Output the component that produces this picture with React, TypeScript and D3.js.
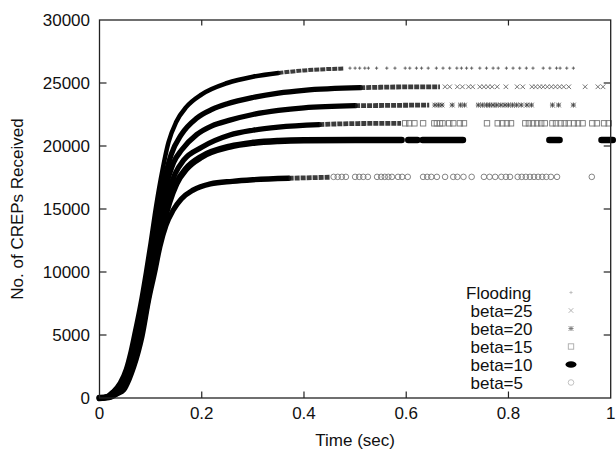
import React from "react";
import * as d3 from "d3";

// ---------- data ----------
const xTicks = [0, 0.2, 0.4, 0.6, 0.8, 1];
const xTickLabels = ["0", "0.2", "0.4", "0.6", "0.8", "1"];
const yTicks = [0, 5000, 10000, 15000, 20000, 25000, 30000];
const yTickLabels = ["0", "5000", "10000", "15000", "20000", "25000", "30000"];
const seriesNames = ["Flooding", "beta=25", "beta=20", "beta=15", "beta=10", "beta=5"];

// dense part of each series: [time, CREPs]
const floodingCurve: [number, number][] = [
  [0, 0], [0.012, 80], [0.026, 500], [0.04, 1200], [0.052, 2300], [0.06, 3500], [0.068, 5000],
  [0.08, 7400], [0.091, 10000], [0.1, 12300], [0.108, 14500], [0.12, 17400], [0.135, 20300],
  [0.15, 21900], [0.17, 23100], [0.2, 24100], [0.25, 25000], [0.3, 25500], [0.35, 25800],
  [0.4, 26000], [0.478, 26150],
];
const beta25Curve: [number, number][] = [
  [0, 0], [0.014, 70], [0.029, 500], [0.043, 1200], [0.055, 2300], [0.063, 3500], [0.071, 5000],
  [0.083, 7500], [0.094, 10000], [0.103, 12200], [0.112, 14400], [0.124, 16800], [0.14, 19300],
  [0.16, 20900], [0.19, 22200], [0.22, 22900], [0.25, 23350], [0.3, 23850], [0.35, 24200],
  [0.4, 24420], [0.51, 24630], [0.6, 24690], [0.666, 24700],
];
const beta20Curve: [number, number][] = [
  [0, 0], [0.016, 70], [0.032, 500], [0.045, 1200], [0.057, 2300], [0.065, 3500], [0.074, 5000],
  [0.086, 7500], [0.097, 10000], [0.106, 12100], [0.115, 14200], [0.128, 16500], [0.145, 18700],
  [0.161, 19700], [0.19, 20900], [0.22, 21600], [0.255, 22050], [0.3, 22500], [0.35, 22820],
  [0.4, 23030], [0.5, 23200], [0.645, 23250],
];
const beta15Curve: [number, number][] = [
  [0, 0], [0.017, 70], [0.034, 500], [0.046, 1100], [0.058, 2300], [0.067, 3500], [0.077, 5000],
  [0.089, 7500], [0.1, 10000], [0.109, 11900], [0.119, 13900], [0.132, 16000], [0.148, 17800],
  [0.165, 18900], [0.2, 19900], [0.255, 20870], [0.3, 21250], [0.35, 21500], [0.43, 21700],
  [0.5, 21780], [0.59, 21800],
];
const beta10Curve: [number, number][] = [
  [0, 0], [0.018, 70], [0.036, 500], [0.047, 1000], [0.059, 2200], [0.069, 3500], [0.08, 5000],
  [0.093, 7600], [0.103, 9800], [0.113, 11700], [0.123, 13600], [0.136, 15500], [0.15, 17000],
  [0.17, 18200], [0.2, 19150], [0.255, 19950], [0.3, 20250], [0.35, 20400], [0.4, 20460],
  [0.5, 20480], [0.591, 20480],
];
const beta5Curve: [number, number][] = [
  [0, 0], [0.02, 60], [0.035, 350], [0.047, 630], [0.058, 1500], [0.067, 2480], [0.076, 3700],
  [0.083, 4870], [0.096, 7780], [0.108, 10000], [0.118, 12000], [0.13, 13700], [0.144, 14900],
  [0.16, 15800], [0.183, 16500], [0.217, 17000], [0.26, 17200], [0.3, 17320], [0.37, 17440],
  [0.45, 17520],
];

// time where each dense curve stops being solid black
const solidEnds = [0.35, 0.51, 0.5, 0.43, 0.591, 0.37];

// plateau level of the sparse markers
const plateaus = [26180, 24700, 23250, 21800, 20480, 17550];

// sparse markers on the plateau (times)
const floodingSparse = [0.49, 0.5, 0.509, 0.519, 0.526, 0.542, 0.562, 0.578, 0.598, 0.607, 0.62, 0.63,
  0.643, 0.659, 0.672, 0.685, 0.699, 0.708, 0.718, 0.728, 0.744, 0.757, 0.77, 0.78, 0.796, 0.809,
  0.822, 0.835, 0.848, 0.868, 0.881, 0.894, 0.901, 0.914, 0.927];
const beta25Sparse = [0.676, 0.685, 0.7, 0.71, 0.722, 0.73, 0.744, 0.752, 0.76, 0.768, 0.778, 0.795,
  0.817, 0.828, 0.846, 0.853, 0.861, 0.868, 0.876, 0.884, 0.892, 0.9, 0.908, 0.918, 0.95, 0.975, 0.985];
const beta20Sparse = [0.656, 0.663, 0.67, 0.69, 0.706, 0.714, 0.741, 0.749, 0.757, 0.763, 0.77, 0.777,
  0.785, 0.793, 0.8, 0.808, 0.816, 0.825, 0.836, 0.845, 0.886, 0.898, 0.927];
const beta15Sparse = [0.598, 0.606, 0.616, 0.633, 0.655, 0.66, 0.666, 0.671, 0.684, 0.692, 0.705, 0.713,
  0.758, 0.779, 0.788, 0.797, 0.805, 0.833, 0.84, 0.848, 0.856, 0.864, 0.871, 0.886, 0.893, 0.902,
  0.91, 0.918, 0.928, 0.936, 0.945, 0.964, 0.973, 0.987, 0.996];
const beta10Runs: [number, number][] = [[0.604, 0.622], [0.632, 0.711], [0.88, 0.9], [0.982, 1.004]];
const beta5Sparse = [0.458, 0.466, 0.474, 0.482, 0.5, 0.508, 0.516, 0.525, 0.543, 0.551, 0.558, 0.565,
  0.572, 0.584, 0.592, 0.603, 0.633, 0.641, 0.649, 0.66, 0.676, 0.692, 0.7, 0.712, 0.728, 0.752,
  0.763, 0.774, 0.786, 0.795, 0.803, 0.818, 0.826, 0.834, 0.842, 0.85, 0.858, 0.866, 0.874, 0.883,
  0.895, 0.963];

const curves = [floodingCurve, beta25Curve, beta20Curve, beta15Curve, beta10Curve, beta5Curve];
const sparse = [floodingSparse, beta25Sparse, beta20Sparse, beta15Sparse, [], beta5Sparse];
const markerKinds = ["plus", "cross", "star", "square", "ellipse", "circle"];

// ---------- layout ----------
const W = 616;
const H = 450;
const L = 99.5;
const R = 610.7;
const T = 20;
const B = 398;
const widths = [4.5, 5.3, 5.3, 5.3, 6.5, 5.3];
const legendColors = ["#bbb", "#aaa", "#777", "#aaa", "#000", "#bbb"];
const markerColors = ["#555", "#666", "#444", "#777", "#000", "#777"];
const FONT = "'Liberation Sans', Arial, sans-serif";

function Marker({ kind, cx, cy, color, legend }: { kind: string; cx: number; cy: number; color: string; legend?: boolean }) {
  const sw = 0.9;
  switch (kind) {
    case "plus":
      return (
        <g stroke={color} strokeWidth={sw}>
          <line x1={cx - 1.6} x2={cx + 1.6} y1={cy} y2={cy} />
          <line x1={cx} x2={cx} y1={cy - 1.6} y2={cy + 1.6} />
        </g>
      );
    case "cross":
      return (
        <g stroke={color} strokeWidth={sw}>
          <line x1={cx - 2.3} x2={cx + 2.3} y1={cy - 2.3} y2={cy + 2.3} />
          <line x1={cx - 2.3} x2={cx + 2.3} y1={cy + 2.3} y2={cy - 2.3} />
        </g>
      );
    case "star":
      return (
        <g stroke={color} strokeWidth={sw}>
          <line x1={cx - 2.3} x2={cx + 2.3} y1={cy - 2.3} y2={cy + 2.3} />
          <line x1={cx - 2.3} x2={cx + 2.3} y1={cy + 2.3} y2={cy - 2.3} />
          <line x1={cx - 2.5} x2={cx + 2.5} y1={cy} y2={cy} />
          <line x1={cx} x2={cx} y1={cy - 2.5} y2={cy + 2.5} />
        </g>
      );
    case "square":
      return <rect x={cx - 2.7} y={cy - 2.7} width={5.4} height={5.4} fill="none" stroke={color} strokeWidth={sw} />;
    case "ellipse":
      return <ellipse cx={cx} cy={cy} rx={legend ? 5.5 : 4.5} ry={3.3} fill={color} />;
    default:
      return <circle cx={cx} cy={cy} r={2.8} fill="none" stroke={color} strokeWidth={sw} />;
  }
}

export default function App() {
  const x = d3.scaleLinear().domain([0, 1]).range([L, R]);
  const y = d3.scaleLinear().domain([0, 30000]).range([B, T]);
  const line = d3
    .line<[number, number]>()
    .x((d) => x(d[0]))
    .y((d) => y(d[1]))
    .curve(d3.curveMonotoneX);

  const legendX = 571;
  const legendY = (i: number) => 292.5 + i * 18;

  return (
    <svg
      width={W}
      height={H}
      style={{ position: "absolute", left: 0, top: 0, background: "#fff" }}
      fontFamily={FONT}
    >
      <rect x={0} y={0} width={W} height={H} fill="#fff" />

      {/* series */}
      {curves.map((c, i) => {
        const solid = c.filter((d) => d[0] <= solidEnds[i] + 1e-9);
        const tex = c.filter((d) => d[0] >= solidEnds[i] - 1e-9);
        return (
          <g key={"s" + i}>
            <path d={line(solid) || ""} fill="none" stroke="#000" strokeWidth={widths[i]} strokeLinecap="round" strokeLinejoin="round" />
            {tex.length > 1 && (
              <path
                d={line(tex) || ""}
                fill="none"
                stroke="#1a1a1a"
                strokeOpacity={0.85}
                strokeWidth={widths[i] - 0.5}
                strokeDasharray="5 1"
              />
            )}
            {sparse[i].map((t, j) => (
              <Marker key={j} kind={markerKinds[i]} cx={x(t)} cy={y(plateaus[i])} color={markerColors[i]} />
            ))}
          </g>
        );
      })}
      {beta10Runs.map((r, j) => (
        <line
          key={"r" + j}
          x1={x(r[0])}
          x2={x(r[1])}
          y1={y(plateaus[4])}
          y2={y(plateaus[4])}
          stroke="#000"
          strokeWidth={6.5}
          strokeLinecap="round"
        />
      ))}

      {/* frame */}
      <rect x={L} y={T} width={R - L} height={B - T} fill="none" stroke="#222" strokeWidth={1.3} />

      {/* ticks */}
      {xTicks.map((t, i) => (
        <g key={"xt" + i}>
          {i > 0 && i < xTicks.length - 1 && (
            <>
              <line x1={x(t)} x2={x(t)} y1={B} y2={B - 6.5} stroke="#222" strokeWidth={1.2} />
              <line x1={x(t)} x2={x(t)} y1={T} y2={T + 5.5} stroke="#222" strokeWidth={1.2} />
            </>
          )}
          <text x={x(t)} y={419} textAnchor="middle" fontSize={17} fill="#111">
            {xTickLabels[i]}
          </text>
        </g>
      ))}
      {yTicks.map((v, i) => (
        <g key={"yt" + i}>
          {i > 0 && i < yTicks.length - 1 && (
            <>
              <line x1={L} x2={L + 7} y1={y(v)} y2={y(v)} stroke="#222" strokeWidth={1.2} />
              <line x1={R} x2={R - 7} y1={y(v)} y2={y(v)} stroke="#222" strokeWidth={1.2} />
            </>
          )}
          <text x={90} y={y(v) + 6} textAnchor="end" fontSize={17} fill="#111">
            {yTickLabels[i]}
          </text>
        </g>
      ))}

      {/* axis titles */}
      <text x={(L + R) / 2} y={446} textAnchor="middle" fontSize={17} fill="#111">
        Time (sec)
      </text>
      <text
        transform={`translate(22.5, ${(T + B) / 2}) rotate(-90)`}
        textAnchor="middle"
        fontSize={17}
        fill="#111"
      >
        No. of CREPs Received
      </text>

      {/* legend */}
      {seriesNames.map((n, i) => (
        <g key={"lg" + i}>
          <text x={i === 0 ? 466 : 470.5} y={legendY(i) + 6} fontSize={17} fill="#111">
            {n}
          </text>
          <Marker kind={markerKinds[i]} cx={legendX} cy={legendY(i)} color={legendColors[i]} legend />
        </g>
      ))}
    </svg>
  );
}
